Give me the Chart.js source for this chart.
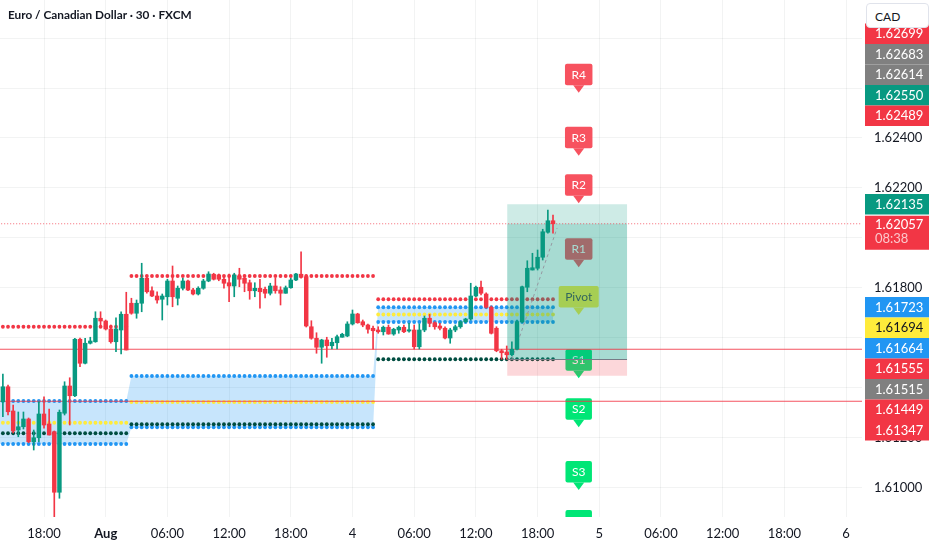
<!DOCTYPE html>
<html>
<head>
<meta charset="utf-8">
<script src="https://cdn.jsdelivr.net/npm/chart.js@4.4.0/dist/chart.umd.min.js"></script>
<style>
  body { margin: 0; background: #fff; }
  #wrap { position: relative; width: 932px; height: 550px; }
  #title { position: absolute; left: 8px; top: 7px; font: bold 11.8px Lato, sans-serif; color: #131722; }
  #cad { position: absolute; left: 866px; top: 3px; width: 63px; height: 25px; box-sizing: border-box; background: #fff;
         border: 1px solid #e0e3eb; border-radius: 4px; font: 12px Lato, sans-serif; color: #131722; padding: 5px 0 0 8px; }
</style>
</head>
<body>
<div id="wrap">
  <canvas id="chart"></canvas>
  <div id="title">Euro / Canadian Dollar · 30 · FXCM</div>
  <div id="cad">CAD</div>
</div>
<script>
// 30 min candles, bar index 0 = 18:00 on Aug 2
const firstBar = -8;
const opens = [1.61345,1.61405,1.61308,1.61232,1.61245,1.61276,1.61185,1.61201,1.61296,1.61256,1.61225,1.60983,1.61299,1.61408,1.61369,1.61595,1.61499,1.61579,1.61585,1.61679,1.61668,1.61636,1.61585,1.61632,1.61695,
  1.61739,1.61699,1.61739,1.61839,1.61789,1.61768,1.61755,1.61765,1.61828,1.61759,1.61799,1.61828,1.61792,1.61776,1.61799,1.61828,1.61855,1.61852,1.61835,1.61821,1.61808,1.61848,1.61839,1.61821,1.61789,1.61799,1.61795,1.61779,1.61808,1.61792,1.61779,1.61801,1.61832,1.61855,1.61845,
  1.61645,1.61599,1.61563,1.61592,1.61569,1.61581,1.61603,1.61608,1.61656,1.61696,1.61665,1.61652,1.61639,1.61632,1.61625,1.61643,1.61616,1.61632,1.61643,1.61628,1.61632,1.61565,1.61632,1.61679,1.61661,1.61648,1.61639,1.61600,1.61632,1.61645,1.61665,1.61676,1.61768,1.61803,1.61776,1.61723,1.61639,1.61549,1.61544,1.61533,1.61555,1.61665,1.61803,1.61872,1.61879,1.61923,1.62023,1.62069];
const highs = [1.61456,1.61412,1.61332,1.61304,1.61304,1.61280,1.61232,1.61345,1.61365,1.61316,1.61228,1.61312,1.61425,1.61441,1.61599,1.61600,1.61599,1.61603,1.61705,1.61705,1.61672,1.61652,1.61681,1.61705,1.61783,
  1.61759,1.61752,1.61899,1.61845,1.61805,1.61785,1.61776,1.61835,1.61888,1.61808,1.61839,1.61832,1.61799,1.61805,1.61835,1.61865,1.61859,1.61856,1.61845,1.61856,1.61859,1.61879,1.61852,1.61832,1.61821,1.61835,1.61804,1.61819,1.61839,1.61805,1.61808,1.61839,1.61859,1.61945,1.61852,
  1.61669,1.61621,1.61595,1.61603,1.61599,1.61612,1.61619,1.61665,1.61712,1.61699,1.61672,1.61656,1.61648,1.61645,1.61648,1.61652,1.61639,1.61648,1.61652,1.61659,1.61652,1.61656,1.61688,1.61695,1.61665,1.61659,1.61645,1.61639,1.61652,1.61668,1.61679,1.61819,1.61808,1.61828,1.61781,1.61728,1.61645,1.61555,1.61568,1.61585,1.61672,1.61808,1.61909,1.61939,1.61952,1.62035,1.62112,1.62092];
const lows = [1.61285,1.61292,1.61220,1.61205,1.61236,1.61181,1.61152,1.61185,1.61239,1.61212,1.60880,1.60959,1.61292,1.61252,1.61365,1.61485,1.61496,1.61576,1.61583,1.61645,1.61632,1.61579,1.61545,1.61536,1.61552,
  1.61695,1.61679,1.61705,1.61779,1.61765,1.61739,1.61672,1.61732,1.61725,1.61732,1.61792,1.61789,1.61772,1.61772,1.61795,1.61825,1.61832,1.61829,1.61799,1.61745,1.61765,1.61805,1.61785,1.61755,1.61765,1.61719,1.61760,1.61772,1.61779,1.61732,1.61779,1.61799,1.61829,1.61839,1.61644,
  1.61595,1.61539,1.61499,1.61523,1.61556,1.61556,1.61603,1.61605,1.61652,1.61659,1.61645,1.61619,1.61555,1.61619,1.61612,1.61615,1.61611,1.61619,1.61621,1.61623,1.61556,1.61556,1.61625,1.61645,1.61635,1.61632,1.61596,1.61579,1.61625,1.61639,1.61661,1.61672,1.61765,1.61772,1.61719,1.61616,1.61545,1.61515,1.61515,1.61528,1.61552,1.61661,1.61785,1.61872,1.61872,1.61912,1.62019,1.62019];
const closes = [1.61405,1.61305,1.61228,1.61245,1.61276,1.61185,1.61201,1.61296,1.61252,1.61212,1.60983,1.61303,1.61408,1.61369,1.61595,1.61499,1.61579,1.61588,1.61679,1.61668,1.61636,1.61585,1.61636,1.61695,1.61552,
  1.61699,1.61739,1.61839,1.61785,1.61768,1.61752,1.61768,1.61828,1.61765,1.61799,1.61828,1.61792,1.61776,1.61799,1.61828,1.61856,1.61835,1.61835,1.61819,1.61808,1.61852,1.61835,1.61819,1.61789,1.61799,1.61785,1.61779,1.61808,1.61789,1.61779,1.61801,1.61832,1.61856,1.61843,1.61648,
  1.61599,1.61563,1.61592,1.61569,1.61583,1.61605,1.61615,1.61656,1.61696,1.61661,1.61652,1.61635,1.61629,1.61625,1.61643,1.61616,1.61635,1.61643,1.61625,1.61633,1.61565,1.61632,1.61679,1.61659,1.61645,1.61639,1.61600,1.61632,1.61645,1.61665,1.61676,1.61768,1.61803,1.61779,1.61723,1.61619,1.61549,1.61541,1.61533,1.61555,1.61665,1.61805,1.61879,1.61881,1.61923,1.62025,1.62069,1.62057];

// time axis
const xTickBars = [0, 12, 24, 36, 48, 60, 72, 84, 96, 108, 120, 132, 144, 156];
const xTickLabels = ["18:00", "Aug", "06:00", "12:00", "18:00", "4", "06:00", "12:00", "18:00", "5", "06:00", "12:00", "18:00", "6"];

// daily level indicator (one entry per session)
const sessionStart = [-9, 17, 65];
const sessionEnd = [16, 64, 99];
const redLevel = [1.61645, 1.61848, 1.61755];
const blueUpper = [1.61348, 1.61448, 1.61723];
const yellowLevel = [1.61261, 1.61344, 1.61694];
const greenLevel = [1.61219, 1.61255, 1.61515];
const blueLower = [1.61176, 1.61243, 1.61664];

// pivot labels
const pivotBar = 104;
const pivotNames = ["R4", "R3", "R2", "R1", "Pivot", "S1", "S2", "S3", "S4"];
const pivotPrices = [1.62581, 1.62329, 1.62139, 1.61883, 1.61692, 1.61439, 1.61243, 1.60992, 1.60796];

// long position tool
const posStart = 90.1, posEnd = 113.4;
const posTarget = 1.62135, posEntry = 1.61515, posStop = 1.61449;
const lastPrice = 1.62057, countdown = "08:38";

// horizontal lines
const hLines = [1.61555, 1.61347];

// price axis tags
const tagPrices = [1.62699, 1.62683, 1.62614, 1.62550, 1.62489, 1.62135, 1.61723, 1.61694, 1.61664, 1.61555, 1.61515, 1.61449, 1.61347];
const tagColors = ["#f23645", "#808080", "#808080", "#089981", "#f23645", "#089981", "#2196f3", "#ffeb3b", "#2196f3", "#f23645", "#808080", "#f23645", "#f23645"];

const UP = "#089981", DOWN = "#f23645";

function levelPoints(levels) {
  const pts = [];
  for (let s = 0; s < levels.length; s++) {
    for (let i = Math.max(sessionStart[s], -8); i <= sessionEnd[s]; i++) pts.push({ x: i, y: levels[s] });
  }
  return pts;
}
function bandPoints(levels) {
  const pts = [];
  for (let s = 0; s < levels.length; s++) {
    pts.push({ x: sessionStart[s], y: levels[s] });
    pts.push({ x: sessionEnd[s], y: levels[s] });
  }
  return pts;
}
function dots(key, levels, color) {
  return { type: "line", key, data: levelPoints(levels), showLine: false, pointRadius: 1.9,
    pointBackgroundColor: color, pointBorderWidth: 0, order: 6 };
}

function drawPivotLabels(chart) {
  const { ctx, chartArea: a, scales: { x, y } } = chart;
  const cx = x.getPixelForValue(pivotBar);
  ctx.save();
  ctx.beginPath(); ctx.rect(a.left, a.top, a.width, a.height); ctx.clip();
  ctx.font = "12px Lato";
  ctx.textAlign = "center";
  ctx.textBaseline = "middle";
  pivotNames.forEach((n, k) => {
    const tip = y.getPixelForValue(pivotPrices[k]);
    const bw = ctx.measureText(n).width + 13, bh = 21.5;
    const bottom = tip - 7.5, top = bottom - bh;
    const col = n[0] === "R" ? "#f7525f" : n[0] === "S" ? "#00e676" : "#ffeb3b";
    ctx.fillStyle = col;
    ctx.beginPath(); ctx.roundRect(cx - bw / 2, top, bw, bh, 2); ctx.fill();
    ctx.beginPath(); ctx.moveTo(cx - 5.5, bottom); ctx.lineTo(cx + 5.5, bottom); ctx.lineTo(cx, tip); ctx.closePath(); ctx.fill();
    ctx.fillStyle = n === "Pivot" ? "#4a4a4a" : "#ffffff";
    ctx.fillText(n, cx, top + bh / 2 + 0.5);
  });
  ctx.restore();
}

function drawPositionBox(chart) {
  const { ctx, chartArea: a, scales: { x, y } } = chart;
  const x0 = x.getPixelForValue(posStart), x1 = x.getPixelForValue(posEnd);
  const yT = y.getPixelForValue(posTarget), yL = y.getPixelForValue(lastPrice);
  const yE = y.getPixelForValue(posEntry), yS = y.getPixelForValue(posStop);
  ctx.save();
  ctx.beginPath(); ctx.rect(a.left, a.top, a.width, a.height); ctx.clip();
  ctx.fillStyle = "rgba(8,153,129,0.2)";
  ctx.fillRect(x0, yT, x1 - x0, yE - yT);
  ctx.fillRect(x0, yL, x1 - x0, yE - yL);
  ctx.fillStyle = "rgba(242,54,69,0.2)";
  ctx.fillRect(x0, yE, x1 - x0, yS - yE);
  ctx.strokeStyle = "#787b86";
  ctx.lineWidth = 1;
  ctx.beginPath(); ctx.moveTo(x0, Math.round(yE) + 0.5); ctx.lineTo(x1, Math.round(yE) + 0.5); ctx.stroke();
  ctx.restore();
}

function drawTags(chart) {
  const { ctx, scales: { y } } = chart;
  const left = 865, w = 64, h = 20.5;
  ctx.save();
  ctx.font = "13px Lato";
  ctx.textBaseline = "middle";
  const yLast = y.getPixelForValue(lastPrice);
  const lastTop = yLast - 8, lastBottom = yLast + 26;
  const items = tagPrices.map((p, k) => ({ p, c: tagColors[k], y: y.getPixelForValue(p) }));
  let bound = lastTop;
  items.filter(o => o.p > lastPrice).sort((a, b) => a.p - b.p).forEach(o => {
    if (o.y + h / 2 > bound) o.y = bound - h / 2;
    bound = o.y - h / 2;
  });
  bound = lastBottom;
  items.filter(o => o.p < lastPrice).sort((a, b) => b.p - a.p).forEach(o => {
    if (o.y - h / 2 < bound) o.y = bound + h / 2;
    bound = o.y + h / 2;
  });
  items.forEach(o => {
    ctx.fillStyle = o.c;
    ctx.fillRect(left, o.y - h / 2, w, h);
    ctx.fillStyle = o.c === "#ffeb3b" ? "#131722" : "#ffffff";
    ctx.fillText(o.p.toFixed(5), left + 10, o.y + 0.5);
  });
  ctx.fillStyle = DOWN;
  ctx.fillRect(left, lastTop, w, lastBottom - lastTop);
  ctx.fillStyle = "#ffffff";
  ctx.fillText(lastPrice.toFixed(5), left + 10, yLast + 1);
  ctx.fillStyle = "rgba(255,255,255,0.72)";
  ctx.fillText(countdown, left + 10, yLast + 15.5);
  ctx.restore();
}

const overlay = {
  id: "overlay",
  beforeDatasetDraw(chart, args) {
    if (chart.data.datasets[args.index].key !== "hline0") return;
    drawPivotLabels(chart);
    drawPositionBox(chart);
  },
  afterDraw(chart) { drawTags(chart); }
};

function noPad(s) {
  s.paddingTop = 0; s.paddingBottom = 0; s.paddingLeft = 0; s.paddingRight = 0;
}

function build() {
  const bars = opens.map((o, k) => firstBar + k);
  const candleCol = opens.map((o, k) => closes[k] >= o ? UP : DOWN);
  const datasets = [
    { type: "bar", key: "bodies", data: bars.map((b, k) => ({ x: b, y: [opens[k], closes[k]] })),
      backgroundColor: candleCol, barThickness: 3.8, minBarLength: 1, grouped: false, order: 0 },
    { type: "bar", key: "wicks", data: bars.map((b, k) => ({ x: b, y: [lows[k], highs[k]] })),
      backgroundColor: candleCol, barThickness: 1, grouped: false, order: 1 },
    { type: "line", key: "diag", data: [{ x: 91, y: posEntry }, { x: 99.8, y: 1.62040 }],
      borderColor: "#9598a1", borderWidth: 1, borderDash: [3, 3], pointRadius: 0, order: 3 },
    { type: "line", key: "last", data: [{ x: -20, y: lastPrice }, { x: 200, y: lastPrice }],
      borderColor: "rgba(242,54,69,0.75)", borderWidth: 1, borderDash: [1, 2], pointRadius: 0, order: 4 },
    ...hLines.map((p, k) => ({ type: "line", key: "hline" + k, data: [{ x: -20, y: p }, { x: 200, y: p }],
      borderColor: "rgba(242,54,69,0.85)", borderWidth: 1, pointRadius: 0, order: k === 0 ? 4.5 : 4 })),
    dots("red", redLevel, "#f23645"),
    dots("blueU", blueUpper, "#2196f3"),
    dots("yellow", yellowLevel, "#ffeb3b"),
    dots("green", greenLevel, "#004d40"),
    dots("blueL", blueLower, "#2196f3"),
    { type: "line", key: "bandTop", data: bandPoints(blueUpper), borderWidth: 0, pointRadius: 0, fill: false, order: 10 },
    { type: "line", key: "bandBottom", data: bandPoints(blueLower), borderWidth: 0, pointRadius: 0,
      fill: "-1", backgroundColor: "rgba(33,150,243,0.25)", order: 10 }
  ];

  new Chart(document.getElementById("chart"), {
    type: "bar",
    data: { datasets },
    plugins: [overlay],
    options: {
      responsive: true,
      maintainAspectRatio: false,
      animation: false,
      events: [],
      layout: { padding: 0, autoPadding: false },
      plugins: { legend: { display: false }, tooltip: { enabled: false } },
      scales: {
        x: {
          type: "linear", min: -8.56, max: 159.1, offset: false,
          grid: { color: "rgba(42,46,57,0.06)", offset: false, drawTicks: false },
          border: { display: false },
          afterBuildTicks: s => { s.ticks = xTickBars.map(v => ({ value: v })); },
          afterFit: s => { s.height = 33; noPad(s); },
          ticks: {
            autoSkip: false, maxRotation: 0, padding: 9, color: "#131722",
            font: c => ({ family: "Lato", size: 13, weight: xTickLabels[c.index] === "Aug" ? "bold" : "normal" }),
            callback: (v, i) => xTickLabels[i]
          }
        },
        y: {
          type: "linear", position: "right", min: 1.60884, max: 1.62952,
          grid: { color: "rgba(42,46,57,0.06)", drawTicks: false },
          border: { display: false },
          afterFit: s => { s.width = 70; noPad(s); },
          ticks: { stepSize: 0.002, includeBounds: false, padding: 12, color: "#131722",
            font: { family: "Lato", size: 13 }, callback: v => v.toFixed(5) }
        }
      }
    }
  });
}

Promise.all([document.fonts.load("13px Lato"), document.fonts.load("bold 13px Lato"), document.fonts.load("bold 12px Lato")])
  .then(build, build);
</script>
</body>
</html>
